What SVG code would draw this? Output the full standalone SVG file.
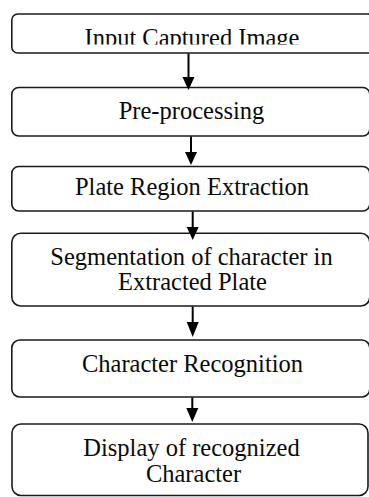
<svg xmlns="http://www.w3.org/2000/svg" width="369" height="497" viewBox="0 0 369 497">
<style>
.box{fill:#fff;stroke:#1a1a1a;stroke-width:1.6}
.t{font-family:"Liberation Serif","Times New Roman",serif;font-size:24.5px;fill:#0a0a0a;text-anchor:middle}
.ln{stroke:#000;stroke-width:2;fill:none}
.hd{fill:#000}
</style>
<defs>
<clipPath id="c1"><rect x="0" y="0" width="369" height="44.5"/></clipPath>
</defs>
<rect width="369" height="497" fill="#fff"/>
<g id="n1"><rect class="box" x="11.8" y="14" width="362" height="39" rx="6"/><text class="t" x="192" y="45.5" clip-path="url(#c1)">Input Captured Image</text></g>
<g id="n2"><rect class="box" x="11.8" y="87.5" width="358" height="48.5" rx="7"/><text class="t" x="191.5" y="119">Pre-processing</text></g>
<g id="n3"><rect class="box" x="11.8" y="166.5" width="358" height="44.5" rx="7"/><text class="t" x="192" y="195">Plate Region Extraction</text></g>
<g id="n4"><rect class="box" x="11.8" y="233.3" width="358" height="72.7" rx="9"/><text class="t" x="191.5" y="265">Segmentation of character in</text><text class="t" x="192.5" y="290">Extracted Plate</text></g>
<g id="n5"><rect class="box" x="11.8" y="340" width="358" height="57" rx="8"/><text class="t" x="192.5" y="372">Character Recognition</text></g>
<g id="n6"><rect class="box" x="12" y="424" width="356" height="71.5" rx="9"/><text class="t" x="191.5" y="456">Display of recognized</text><text class="t" x="193.5" y="482">Character</text></g>
<g id="connectors">
<line class="ln" x1="188.5" y1="53.5" x2="188.5" y2="78"/><polygon class="hd" points="182.5,77 194.5,77 188.5,90"/>
<line class="ln" x1="191" y1="136.5" x2="191" y2="153"/><polygon class="hd" points="185,152 197,152 191,165"/>
<line class="ln" x1="192.7" y1="211.5" x2="192.7" y2="228"/><polygon class="hd" points="186.7,227 198.7,227 192.7,240"/>
<line class="ln" x1="192.7" y1="306.5" x2="192.7" y2="323"/><polygon class="hd" points="186.7,322 198.7,322 192.7,337"/>
<line class="ln" x1="192.3" y1="397.5" x2="192.3" y2="409"/><polygon class="hd" points="186.3,408 198.3,408 192.3,422"/>
</g>
</svg>
